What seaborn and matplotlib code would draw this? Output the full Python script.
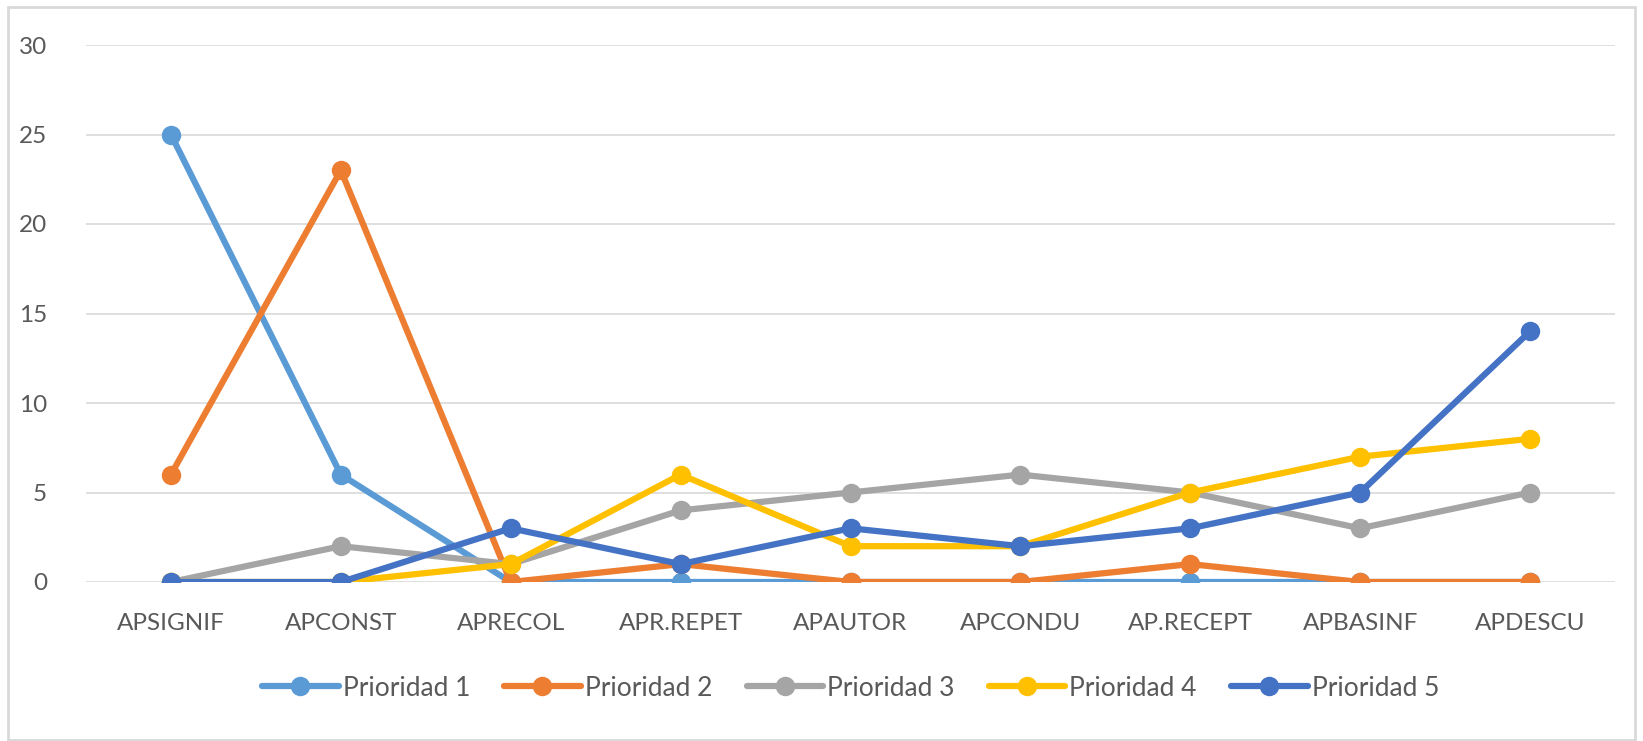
import pandas as pd
import numpy as np
import matplotlib
matplotlib.use("Agg")
import matplotlib.pyplot as plt
import seaborn as sns
from matplotlib.patches import Rectangle

categorias = ["APSIGNIF", "APCONST", "APRECOL", "APR.REPET", "APAUTOR",
              "APCONDU", "AP.RECEPT", "APBASINF", "APDESCU"]
prioridad_1 = [25, 6, 0, 0, 0, 0, 0, 0, 0]
prioridad_2 = [6, 23, 0, 1, 0, 0, 1, 0, 0]
prioridad_3 = [0, 2, 1, 4, 5, 6, 5, 3, 5]
prioridad_4 = [0, 0, 1, 6, 2, 2, 5, 7, 8]
prioridad_5 = [0, 0, 3, 1, 3, 2, 3, 5, 14]
series = ["Prioridad 1", "Prioridad 2", "Prioridad 3", "Prioridad 4", "Prioridad 5"]
colores = ["#5B9BD5", "#ED7D31", "#A5A5A5", "#FFC000", "#4472C4"]

# long form table for seaborn
rows = []
for nombre, vals in zip(series, [prioridad_1, prioridad_2, prioridad_3, prioridad_4, prioridad_5]):
    for c, v in zip(categorias, vals):
        rows.append({"categoria": c, "valor": v, "serie": nombre})
df = pd.DataFrame(rows)

sns.set_style("white")
plt.rcParams["font.family"] = ["Lato", "DejaVu Sans"]

fig = plt.figure(figsize=(16.43, 7.41), dpi=100)
ax = fig.add_axes([86 / 1643, 1 - 582 / 741, (1615 - 86) / 1643, (582 - 45) / 741])

sns.lineplot(data=df, x="categoria", y="valor", hue="serie", hue_order=series,
             palette=colores, marker="o", markersize=14, markeredgewidth=0,
             linewidth=4.5, sort=False, ax=ax)

ax.set_xlim(-0.5, len(categorias) - 0.5)
ax.set_ylim(0, 30)
ax.set_yticks(np.arange(0, 31, 5))
ax.grid(axis="y", color="#D9D9D9", linewidth=1.2)
ax.set_axisbelow(True)
for s in ax.spines.values():
    s.set_visible(False)
ax.set_xlabel("")
ax.set_ylabel("")
ax.tick_params(axis="both", colors="#595959", labelsize=17.5, length=0)
ax.tick_params(axis="x", pad=22)
ax.tick_params(axis="y", pad=28)

leg = ax.legend(loc="upper center", bbox_to_anchor=(0.5, -0.13), ncol=5,
                frameon=False, fontsize=19, handlelength=2.9, columnspacing=1.3,
                handletextpad=0.15, labelcolor="#595959")

fig.patches.append(Rectangle((8 / 1643, 0.002), 1 - 16 / 1643, 1 - 8 / 741,
                             transform=fig.transFigure, fill=False,
                             edgecolor="#D9D9D9", linewidth=2))

fig.savefig("out.png", dpi=100)
